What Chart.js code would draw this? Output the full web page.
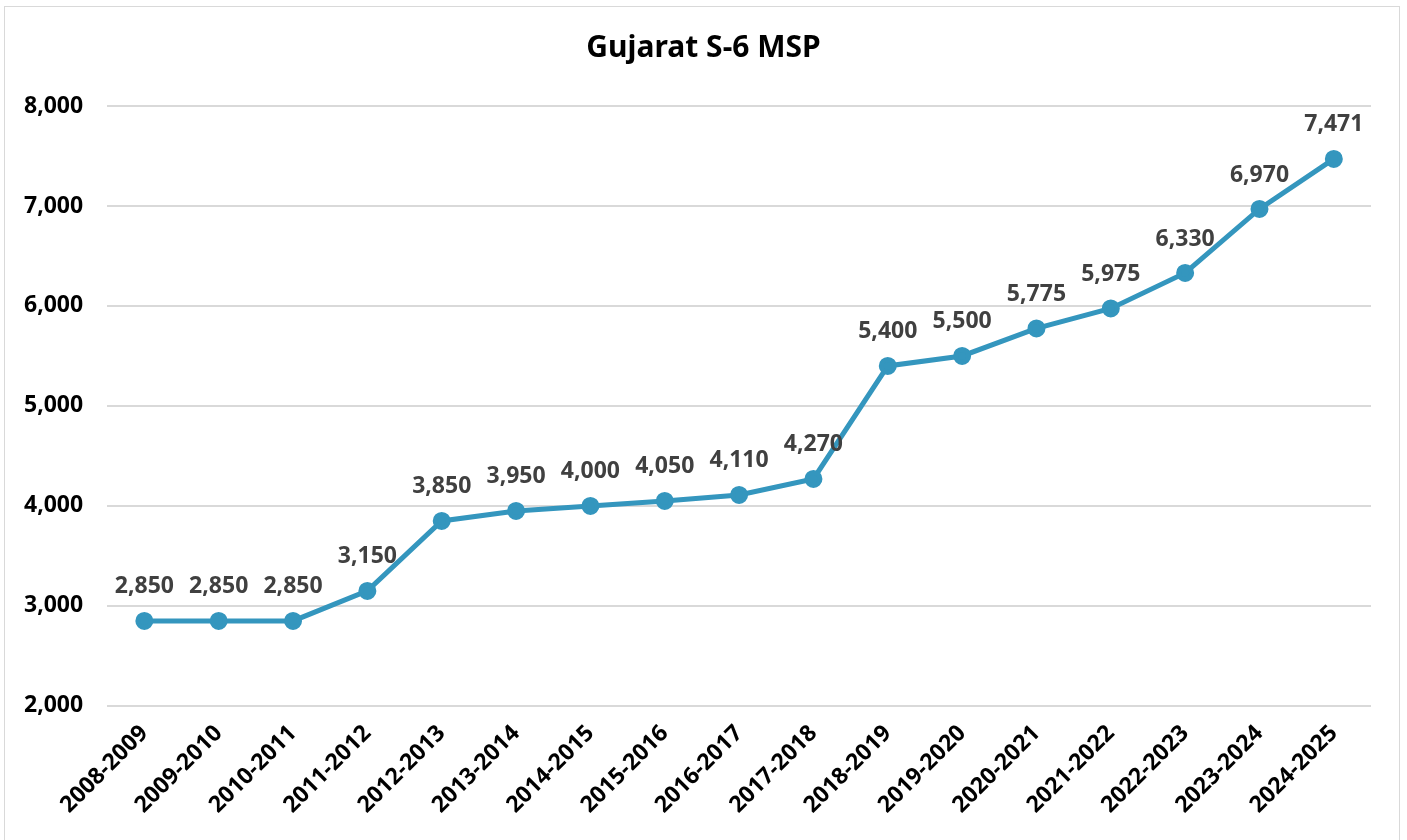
<!DOCTYPE html>
<html>
<head>
<meta charset="utf-8">
<script src="https://cdn.jsdelivr.net/npm/chart.js@4.4.1/dist/chart.umd.min.js"></script>
<style>
  html, body { margin: 0; padding: 0; background: #fff; }
  #frame {
    position: absolute; left: 4px; top: 6px; width: 1396px; height: 840px;
    border: 1px solid #d9d9d9; box-sizing: border-box;
  }
  #wrap { position: absolute; left: 0; top: 0; width: 1407px; height: 840px; }
</style>
</head>
<body>
<div id="frame"></div>
<div id="wrap"><canvas id="chart"></canvas></div>
<script>
// data
const seasons = [
  '2008-2009', '2009-2010', '2010-2011', '2011-2012', '2012-2013', '2013-2014',
  '2014-2015', '2015-2016', '2016-2017', '2017-2018', '2018-2019', '2019-2020',
  '2020-2021', '2021-2022', '2022-2023', '2023-2024', '2024-2025'
];
const mspValues = [
  2850, 2850, 2850, 3150, 3850, 3950, 4000, 4050, 4110, 4270,
  5400, 5500, 5775, 5975, 6330, 6970, 7471
];
const yMin = 2000;
const yMax = 8000;
const yStep = 1000;
const titleText = 'Gujarat S-6 MSP';

const lineColor = 'rgb(52, 150, 190)';
const fontFamily = '"Noto Sans", "Open Sans", sans-serif';

// small plugin: value above every point, and the title centred on the whole canvas
const valueLabels = {
    id: 'valueLabels',
    afterDatasetsDraw(chart) {
        const ctx = chart.ctx;
        const meta = chart.getDatasetMeta(0);
        ctx.save();
        ctx.font = 'bold 23px ' + fontFamily;
        ctx.fillStyle = '#404040';
        ctx.textAlign = 'center';
        ctx.textBaseline = 'middle';
        meta.data.forEach((pt, i) => {
            const v = chart.data.datasets[0].data[i];
            ctx.fillText(v.toLocaleString('en-US'), pt.x, pt.y - 34);
        });

        const tb = chart.titleBlock;
        ctx.font = 'bold 30px ' + fontFamily;
        ctx.fillStyle = '#000';
        ctx.fillText(titleText, chart.width / 2, tb.top + tb.height / 2 - 20);
        ctx.restore();
    }
};

const chartData = {
    labels: seasons,
    datasets: [{
        label: titleText,
        data: mspValues,
        borderColor: lineColor,
        backgroundColor: lineColor,
        borderWidth: 5,
        pointRadius: 6.5,
        pointHoverRadius: 6.5,
        tension: 0
    }]
};

const chartConfig = {
    type: 'line',
    data: chartData,
    options: {
        responsive: true,
        maintainAspectRatio: false,
        animation: false,
        layout: {
            padding: { left: 0, right: 36, top: 30, bottom: 15 }
        },
        plugins: {
            legend: { display: false },
            tooltip: { enabled: false },
            // title block only reserves the space, the text is drawn by valueLabels
            title: {
                display: true,
                text: titleText,
                color: 'rgba(0,0,0,0)',
                font: { family: fontFamily, size: 30, weight: 'bold' },
                padding: { top: 0, bottom: 40 }
            }
        },
        scales: {
            x: {
                offset: true,
                grid: { display: false },
                border: { display: false },
                ticks: {
                    color: '#000',
                    font: { family: fontFamily, size: 23, weight: 'bold' },
                    minRotation: 45,
                    maxRotation: 45,
                    autoSkip: false,
                    padding: 6
                }
            },
            y: {
                min: yMin,
                max: yMax,
                border: { display: false },
                grid: { color: '#d9d9d9', lineWidth: 2, drawTicks: false },
                ticks: {
                    stepSize: yStep,
                    color: '#000',
                    padding: 24,
                    font: { family: fontFamily, size: 23, weight: 'bold' },
                    callback: (v) => v.toLocaleString('en-US')
                }
            }
        }
    },
    plugins: [valueLabels]
};

const chart = new Chart(document.getElementById('chart'), chartConfig);
</script>
</body>
</html>
